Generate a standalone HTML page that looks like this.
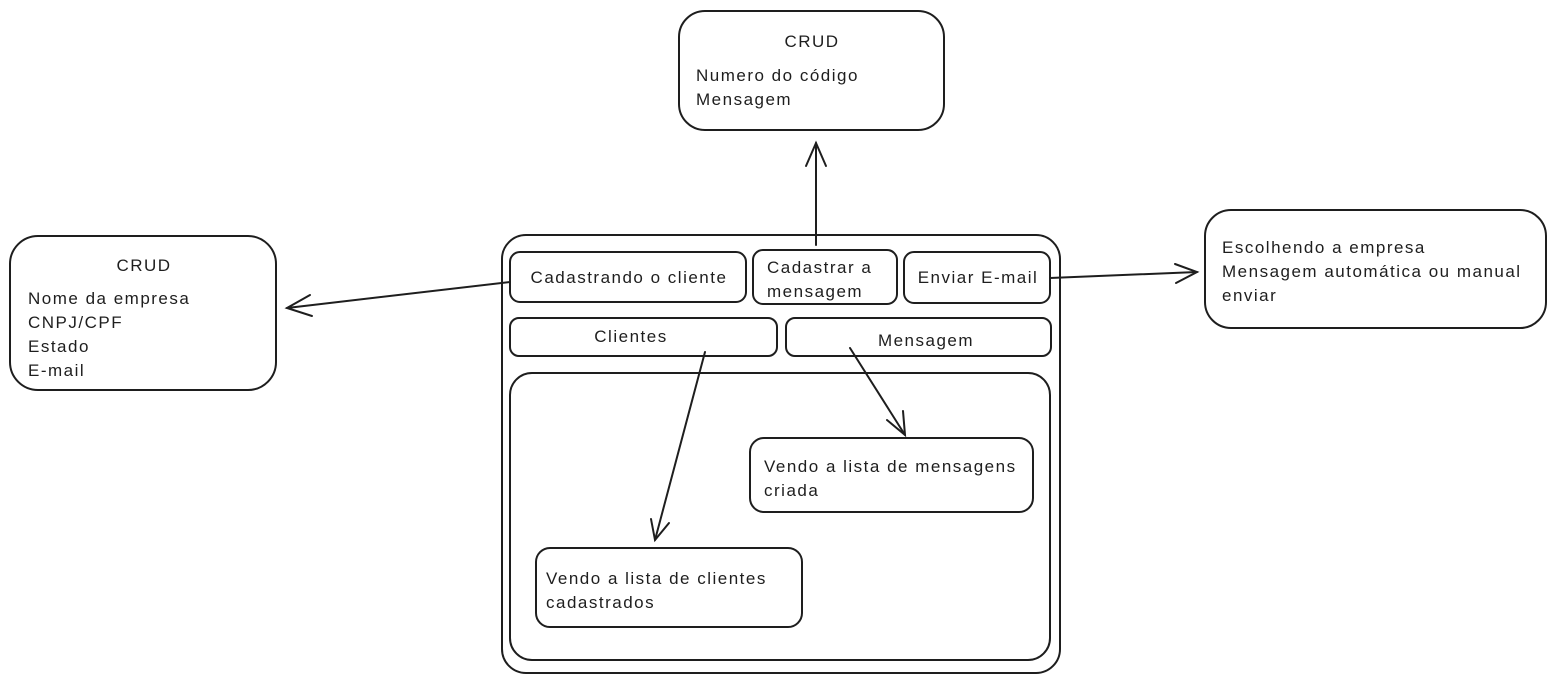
<!DOCTYPE html>
<html><head><meta charset="utf-8"><style>
html,body{margin:0;padding:0;background:#fff;}
svg{display:block;}
text{font-family:"Liberation Sans",sans-serif;font-size:17px;letter-spacing:1.5px;fill:#1e1e1e;}
</style></head><body>
<svg width="1555" height="682" viewBox="0 0 1555 682" xmlns="http://www.w3.org/2000/svg">
<g fill="none" stroke="#1e1e1e" stroke-width="2" stroke-linecap="round">
<rect x="679" y="11" width="265" height="119" rx="26"/>
<rect x="10" y="236" width="266" height="154" rx="28"/>
<rect x="1205" y="210" width="341" height="118" rx="26"/>
<rect x="502" y="235" width="558" height="438" rx="24"/>
<rect x="510" y="252" width="236" height="50" rx="10"/>
<rect x="753" y="250" width="144" height="54" rx="10"/>
<rect x="904" y="252" width="146" height="51" rx="10"/>
<rect x="510" y="318" width="267" height="38" rx="9"/>
<rect x="786" y="318" width="265" height="38" rx="9"/>
<rect x="510" y="373" width="540" height="287" rx="22"/>
<rect x="750" y="438" width="283" height="74" rx="14"/>
<rect x="536" y="548" width="266" height="79" rx="14"/>
<line x1="816" y1="245" x2="816" y2="143"/>
<polyline points="806,166 816,143 826,166"/>
<line x1="510" y1="282" x2="287" y2="308"/>
<polyline points="310,295 287,308 312,316"/>
<line x1="1050" y1="278" x2="1197" y2="272"/>
<polyline points="1175,264 1197,272 1176,283"/>
<line x1="705" y1="352" x2="655" y2="540"/>
<polyline points="651,519 655,540 669,523"/>
<line x1="850" y1="348" x2="905" y2="435"/>
<polyline points="887,420 905,435 903,411"/>
</g>
<text x="812" y="47" text-anchor="middle" font-size="19">CRUD</text>
<text x="696" y="81">Numero do código</text>
<text x="696" y="105">Mensagem</text>
<text x="144" y="271" text-anchor="middle" font-size="19">CRUD</text>
<text x="28" y="304">Nome da empresa</text>
<text x="28" y="328">CNPJ/CPF</text>
<text x="28" y="352">Estado</text>
<text x="28" y="376">E-mail</text>
<text x="1222" y="253">Escolhendo a empresa</text>
<text x="1222" y="277">Mensagem automática ou manual</text>
<text x="1222" y="301">enviar</text>
<text x="629" y="283" text-anchor="middle">Cadastrando o cliente</text>
<text x="767" y="273">Cadastrar a</text>
<text x="767" y="297">mensagem</text>
<text x="978" y="283" text-anchor="middle">Enviar E-mail</text>
<text x="631" y="342" text-anchor="middle">Clientes</text>
<text x="926" y="346" text-anchor="middle">Mensagem</text>
<text x="764" y="472">Vendo a lista de mensagens</text>
<text x="764" y="496">criada</text>
<text x="546" y="584">Vendo a lista de clientes</text>
<text x="546" y="608">cadastrados</text>
</svg>
</body></html>
